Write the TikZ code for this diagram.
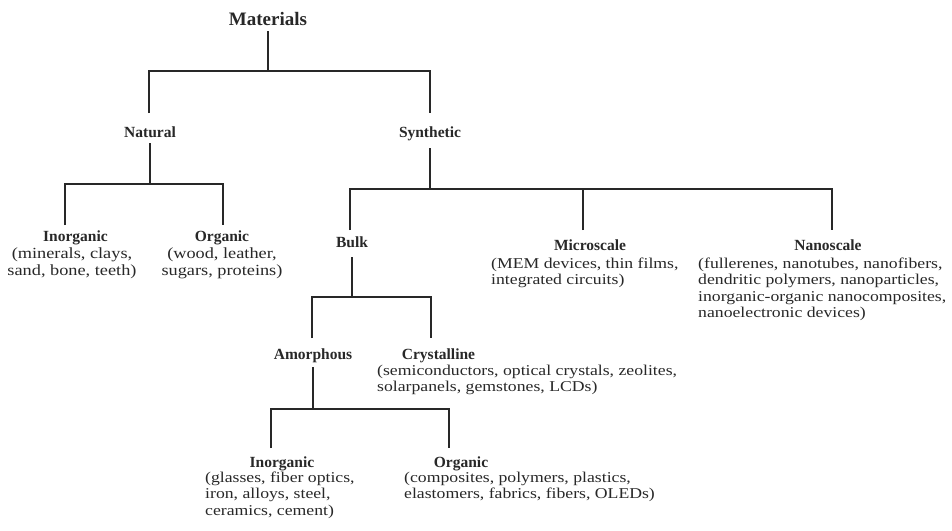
\documentclass[tikz,border=0pt]{standalone}
\usepackage{fontspec}
\setmainfont{Liberation Serif}
\newfontfamily\descfont[FakeStretch=1.18]{Liberation Serif}
\definecolor{ink}{RGB}{40,40,40}
\newcommand\dlft[1]{\begin{tabular}[t]{@{}l@{}}#1\end{tabular}}
\newcommand\dctr[1]{\begin{tabular}[t]{@{}c@{}}#1\end{tabular}}
\tikzset{
  ttl/.style={inner sep=0pt, anchor=base, font=\fontsize{15.5}{18}\selectfont\bfseries, text=ink},
  desc/.style={inner sep=0pt, anchor=base west, font=\descfont\fontsize{15}{16.5}\selectfont, text=ink},
  descc/.style={desc, anchor=base},
  branch/.style={draw=ink, line width=1.2pt}
}
\begin{document}
\begin{tikzpicture}[x=1pt,y=-1pt]
\fill[white] (0,0) rectangle (952,530);
\useasboundingbox (0,0) rectangle (952,530);
% nodes
\node[ttl, font=\fontsize{19}{22}\selectfont\bfseries] (mat) at (268,25) {Materials};
\node[ttl] (nat) at (150,137) {Natural};
\node[ttl] (syn) at (430,137) {Synthetic};
\node[ttl] (ninorg) at (75.5,241) {Inorganic};
\node[descc, font=\descfont\fontsize{15.5}{17}\selectfont] (ninorgd) at (72,258) {\dctr{(minerals, clays,\\ sand, bone, teeth)}};
\node[ttl] (norg) at (222,241) {Organic};
\node[descc, font=\descfont\fontsize{15.5}{17}\selectfont] (norgd) at (222,258) {\dctr{(wood, leather,\\ sugars, proteins)}};
\node[ttl] (bulk) at (352,247) {Bulk};
\node[ttl] (micro) at (590,250) {Microscale};
\node[desc] (microd) at (491,268) {\dlft{(MEM devices, thin films,\\ integrated circuits)}};
\node[ttl] (nano) at (828,250) {Nanoscale};
\node[desc] (nanod) at (698,268) {\dlft{(fullerenes, nanotubes, nanofibers,\\ dendritic polymers, nanoparticles,\\ inorganic-organic nanocomposites,\\ nanoelectronic devices)}};
\node[ttl] (amor) at (313,359) {Amorphous};
\node[ttl] (cryst) at (438.5,359) {Crystalline};
\node[desc] (crystd) at (377,375) {\dlft{(semiconductors, optical crystals, zeolites,\\ solarpanels, gemstones, LCDs)}};
\node[ttl] (ainorg) at (282,467) {Inorganic};
\node[desc] (ainorgd) at (205,482) {\dlft{(glasses, fiber optics,\\ iron, alloys, steel,\\ ceramics, cement)}};
\node[ttl] (aorg) at (461,467) {Organic};
\node[desc] (aorgd) at (404,482) {\dlft{(composites, polymers, plastics,\\ elastomers, fabrics, fibers, OLEDs)}};
% junctions
\coordinate (j0) at (268,71);
\coordinate (j1) at (150,184);
\coordinate (j2) at (430,189);
\coordinate (j3) at (352,297);
\coordinate (j4) at (313,409);
\path ([xshift=-7pt,yshift=20pt]micro.base) coordinate (mtop);
% connectors
\draw[branch] ([yshift=-6pt]mat.base) -- (j0);
\draw[branch] ([xshift=-1pt,yshift=24pt]nat.base) |- (j0) -| ([yshift=24pt]syn.base);
\draw[branch] ([yshift=-6pt]nat.base) -- (j1);
\draw[branch] ([xshift=-10.5pt,yshift=16pt]ninorg.base) |- (j1) -| ([xshift=1pt,yshift=16pt]norg.base);
\draw[branch] ([yshift=-11pt]syn.base) -- (j2);
\draw[branch] ([xshift=-2pt,yshift=17pt]bulk.base) |- (j2) -| ([xshift=4pt,yshift=20pt]nano.base);
\draw[branch] (mtop) -- (mtop |- j2);
\draw[branch] ([yshift=-10pt]bulk.base) -- (j3);
\draw[branch] ([xshift=-1pt,yshift=21pt]amor.base) |- (j3) -| ([xshift=-7.5pt,yshift=21pt]cryst.base);
\draw[branch] ([yshift=-8pt]amor.base) -- (j4);
\draw[branch] ([xshift=-11pt,yshift=19pt]ainorg.base) |- (j4) -| ([xshift=-12pt,yshift=19pt]aorg.base);
\end{tikzpicture}
\end{document}
